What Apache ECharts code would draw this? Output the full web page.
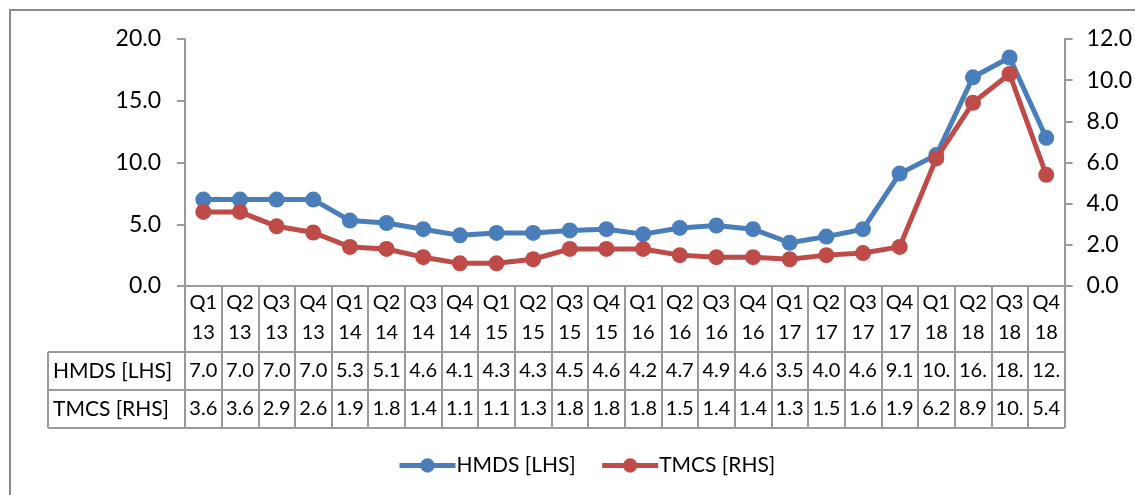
<!DOCTYPE html>
<html>
<head>
<meta charset="utf-8">
<script src="https://cdn.jsdelivr.net/npm/echarts@6/dist/echarts.min.js"></script>
<style>
html,body{margin:0;padding:0;background:#fff;}
#c{width:1135px;height:495px;}
</style>
</head>
<body>
<div id="c"></div>
<script>
const categories = ['Q1 13','Q2 13','Q3 13','Q4 13','Q1 14','Q2 14','Q3 14','Q4 14','Q1 15','Q2 15','Q3 15','Q4 15','Q1 16','Q2 16','Q3 16','Q4 16','Q1 17','Q2 17','Q3 17','Q4 17','Q1 18','Q2 18','Q3 18','Q4 18'];
const hmds = [7.0,7.0,7.0,7.0,5.3,5.1,4.6,4.1,4.3,4.3,4.5,4.6,4.2,4.7,4.9,4.6,3.5,4.0,4.6,9.1,10.6,16.9,18.5,12.0];
const tmcs = [3.6,3.6,2.9,2.6,1.9,1.8,1.4,1.1,1.1,1.3,1.8,1.8,1.8,1.5,1.4,1.4,1.3,1.5,1.6,1.9,6.2,8.9,10.3,5.4];
const seriesNames = ['HMDS [LHS]','TMCS [RHS]'];
const leftTicks = {min:0, max:20, interval:5};
const rightTicks = {min:0, max:12, interval:2};

const FONT = 'Lato, "Open Sans", sans-serif';
const BLUE = '#4A7EBB';
const RED = '#BE4B48';
const GRID_GRAY = '#9a9a9a';

const chart = echarts.init(document.getElementById('c'), null, {renderer:'canvas'});

function cellText(v){ let s = v.toFixed(1); return s.length > 3 ? s.slice(0,3) : s; }

const option = {
  animation:false,
  backgroundColor:'#fff',
  textStyle:{fontFamily:FONT},
  grid:{left:185, right:69, top:39, bottom:209, containLabel:false},
  legend:{
    data:seriesNames, left:392, top:450, itemWidth:56, itemHeight:18, itemGap:24,
    lineStyle:{width:5},
    textStyle:{fontFamily:FONT, fontSize:21, color:'#000', padding:[0,0,0,-4]}
  },
  xAxis:{
    type:'category', data:categories, boundaryGap:true,
    axisLine:{show:true, lineStyle:{color:GRID_GRAY, width:2}},
    axisTick:{show:true, interval:0, length:142, lineStyle:{color:GRID_GRAY, width:2}},
    axisLabel:{interval:0, margin:2, fontFamily:FONT, fontSize:20, color:'#000', lineHeight:30,
      formatter:function(v){ return v.replace(' ','\n'); }},
    splitLine:{show:false}
  },
  yAxis:[
    {type:'value', min:leftTicks.min, max:leftTicks.max, interval:leftTicks.interval, position:'left',
     axisLine:{show:true, lineStyle:{color:GRID_GRAY, width:2}},
     axisTick:{show:true, length:8, lineStyle:{color:GRID_GRAY, width:2}},
     axisLabel:{margin:24, fontFamily:FONT, fontSize:23, color:'#000', formatter:v=>v.toFixed(1)},
     splitLine:{show:false}},
    {type:'value', min:rightTicks.min, max:rightTicks.max, interval:rightTicks.interval, position:'right',
     axisLine:{show:true, lineStyle:{color:GRID_GRAY, width:2}},
     axisTick:{show:true, length:8, lineStyle:{color:GRID_GRAY, width:2}},
     axisLabel:{margin:22, fontFamily:FONT, fontSize:23, color:'#000', formatter:v=>v.toFixed(1)},
     splitLine:{show:false}}
  ],
  series:[
    {name:seriesNames[0], type:'line', yAxisIndex:0, data:hmds, symbol:'circle', symbolSize:16,
     lineStyle:{color:BLUE, width:5}, itemStyle:{color:BLUE}, z:3},
    {name:seriesNames[1], type:'line', yAxisIndex:1, data:tmcs, symbol:'circle', symbolSize:16,
     lineStyle:{color:RED, width:5}, itemStyle:{color:RED}, z:4}
  ]
};
chart.setOption(option);

// Data table built from the chart's own scale
const y0 = chart.convertToPixel({yAxisIndex:0}, 0);
const xL = chart.convertToPixel({xAxisIndex:0}, categories[0]);
const xR = chart.convertToPixel({xAxisIndex:0}, categories[categories.length-1]);
const half = (xR - xL) / (categories.length - 1) / 2;
const gridLeft = xL - half, gridRight = xR + half;
const labelLeft = 48;
const rowTops = [y0 + 66, y0 + 104];
const rowBottom = y0 + 142;
const rows = [hmds, tmcs];
const g = [];
g.push({type:'rect', shape:{x:10, y:10, width:1140, height:500}, style:{fill:'none', stroke:'#8a8a8a', lineWidth:2}, silent:true, z:0});
[rowTops[0], rowTops[1], rowBottom].forEach(y=>{
  g.push({type:'line', shape:{x1:labelLeft, y1:y, x2:gridRight, y2:y}, style:{stroke:GRID_GRAY, lineWidth:2}, silent:true});
});
g.push({type:'line', shape:{x1:labelLeft, y1:rowTops[0], x2:labelLeft, y2:rowBottom}, style:{stroke:GRID_GRAY, lineWidth:2}, silent:true});
rows.forEach((arr, r)=>{
  const cy = (rowTops[r] + (r===0 ? rowTops[1] : rowBottom)) / 2;
  g.push({type:'text', x:labelLeft+5, y:cy, style:{text:seriesNames[r], font:'21px '+FONT, fill:'#000', textAlign:'left', textVerticalAlign:'middle'}, silent:true});
  arr.forEach((v,i)=>{
    const cx = chart.convertToPixel({xAxisIndex:0}, categories[i]);
    g.push({type:'text', x:cx, y:cy, style:{text:cellText(v), font:'20px '+FONT, fill:'#000', textAlign:'center', textVerticalAlign:'middle'}, silent:true});
  });
});
chart.setOption({graphic:g});
</script>
</body>
</html>
